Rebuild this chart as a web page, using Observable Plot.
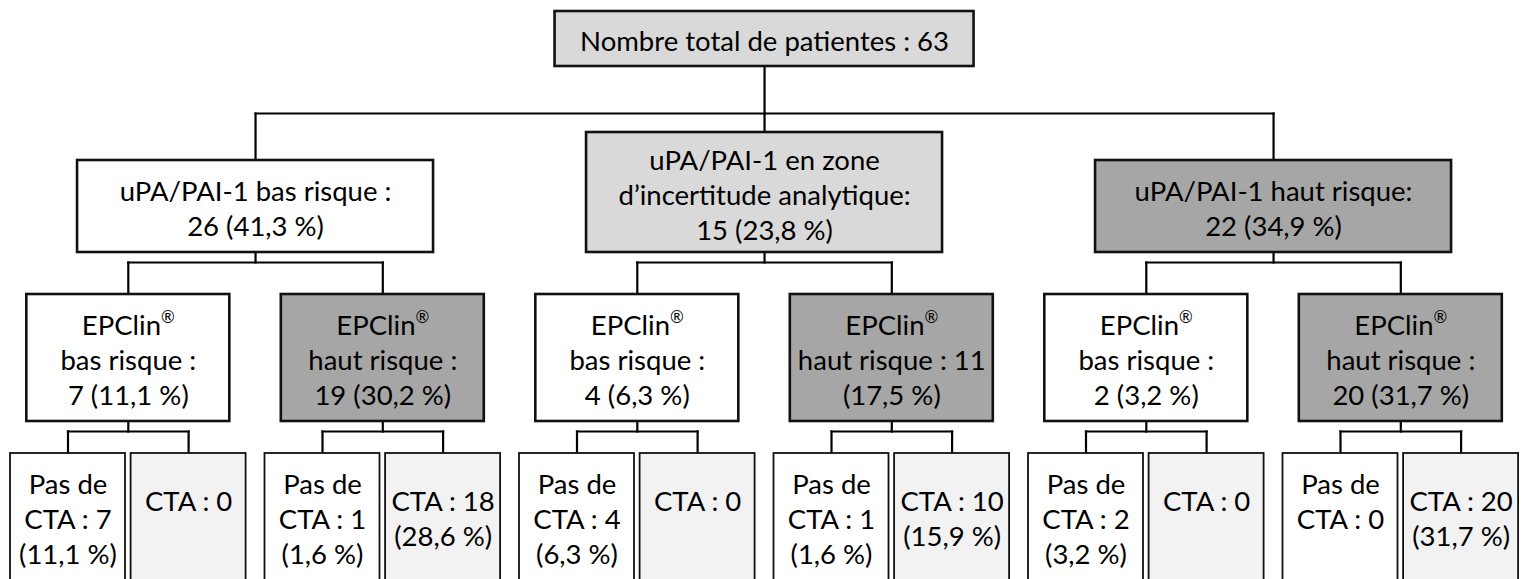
<!DOCTYPE html>
<html>
<head>
<meta charset="utf-8">
<script src="https://cdn.jsdelivr.net/npm/d3@7"></script>
<script src="https://cdn.jsdelivr.net/npm/@observablehq/plot@0.6"></script>
<style>
  html, body { margin: 0; padding: 0; background: #fff; }
  #chart svg { display: block; }
</style>
</head>
<body>
<div id="chart"></div>
<script>
// ---------------- DATA ----------------
const rootLabels = ["Nombre total de patientes : 63"];

const uPALabels = [
  "uPA/PAI-1 bas risque :\n26 (41,3 %)",
  "uPA/PAI-1 en zone\nd’incertitude analytique:\n15 (23,8 %)",
  "uPA/PAI-1 haut risque:\n22 (34,9 %)"
];
const uPAKinds = ["bas", "zone", "haut"];

const epclinLabels = [
  "EPClin®\nbas risque :\n7 (11,1 %)",
  "EPClin®\nhaut risque :\n19 (30,2 %)",
  "EPClin®\nbas risque :\n4 (6,3 %)",
  "EPClin®\nhaut risque : 11\n(17,5 %)",
  "EPClin®\nbas risque :\n2 (3,2 %)",
  "EPClin®\nhaut risque :\n20 (31,7 %)"
];
const epclinKinds = ["bas", "haut", "bas", "haut", "bas", "haut"];

const ctaLabels = [
  "Pas de\nCTA : 7\n(11,1 %)", "CTA : 0\n",
  "Pas de\nCTA : 1\n(1,6 %)", "CTA : 18\n(28,6 %)",
  "Pas de\nCTA : 4\n(6,3 %)", "CTA : 0\n",
  "Pas de\nCTA : 1\n(1,6 %)", "CTA : 10\n(15,9 %)",
  "Pas de\nCTA : 2\n(3,2 %)", "CTA : 0\n",
  "Pas de\nCTA : 0\n", "CTA : 20\n(31,7 %)"
];
const ctaKinds = ["non", "oui", "non", "oui", "non", "oui", "non", "oui", "non", "oui", "non", "oui"];

// ---------------- STYLE / LAYOUT ----------------
const W = 1523, H = 579;
const fills = {
  root: "#d9d9d9",
  bas: "#ffffff", zone: "#d9d9d9", haut: "#a6a6a6",
  non: "#ffffff", oui: "#f2f2f2"
};
const leafX0 = 67.5, leafStep = 120.6, pairGap = 13.3;
const boxW = {root: 419, l1: 356, l2: 203, l3: 115};
const FONT = 27.5, LINE_H = 1.27;

const nLines = s => s.split("\n").length;

const leafX = ctaLabels.map((_, i) => leafX0 + i * leafStep + Math.floor(i / 2) * pairGap);
const epX = epclinLabels.map((_, i) => (leafX[2 * i] + leafX[2 * i + 1]) / 2);
const uX = uPALabels.map((_, i) => (epX[2 * i] + epX[2 * i + 1]) / 2);
const rootX = d3.mean(uX);

const boxes = [];
const rootBox = {label: rootLabels[0], cx: rootX, w: boxW.root, y1: 11, y2: 66, fill: fills.root, lvl: 0};
boxes.push(rootBox);
const l1Boxes = uPALabels.map((label, i) => {
  const y2 = 252, y1 = y2 - (36 + 28 * nLines(label));
  return {label, cx: uX[i], w: boxW.l1, y1, y2, fill: fills[uPAKinds[i]], lvl: 1};
});
const l2Boxes = epclinLabels.map((label, i) => ({label, cx: epX[i], w: boxW.l2, y1: 294, y2: 421, fill: fills[epclinKinds[i]], lvl: 2}));
const l3Boxes = ctaLabels.map((label, i) => ({label, cx: leafX[i], w: boxW.l3, y1: 453, y2: 584, fill: fills[ctaKinds[i]], lvl: 3}));
boxes.push(...l1Boxes, ...l2Boxes, ...l3Boxes);
boxes.forEach(b => { b.x1 = b.cx - b.w / 2; b.x2 = b.cx + b.w / 2; b.ty = l3Boxes.includes(b) ? 517 : (b.y1 + b.y2) / 2 + 1; });

// connectors
const segs = [];
function connect(parent, children, busY) {
  segs.push({x1: parent.cx, y1: parent.y2, x2: parent.cx, y2: busY});
  const xs = children.map(c => c.cx);
  segs.push({x1: d3.min(xs), y1: busY, x2: d3.max(xs), y2: busY});
  children.forEach(c => segs.push({x1: c.cx, y1: busY, x2: c.cx, y2: c.y1}));
}
connect(rootBox, l1Boxes, 113);
l1Boxes.forEach((b, i) => connect(b, l2Boxes.slice(2 * i, 2 * i + 2), 262));
l2Boxes.forEach((b, i) => connect(b, l3Boxes.slice(2 * i, 2 * i + 2), 431));

const upper = boxes.filter(b => b.lvl < 3);
const lower = boxes.filter(b => b.lvl === 3);

const chart = Plot.plot({
  width: W,
  height: H,
  margin: 0,
  x: {domain: [0, W], range: [0, W], axis: null},
  y: {domain: [0, H], range: [0, H], axis: null},
  style: {fontFamily: "Lato, 'Open Sans', sans-serif", background: "#fff"},
  marks: [
    Plot.link(segs, {x1: "x1", y1: "y1", x2: "x2", y2: "y2", stroke: "#000", strokeWidth: 2.2, strokeLinecap: "square"}),
    Plot.rect(upper, {x1: "x1", x2: "x2", y1: "y1", y2: "y2", fill: "fill", stroke: "#111", strokeWidth: 2.6}),
    Plot.rect(lower, {x1: "x1", x2: "x2", y1: "y1", y2: "y2", fill: "fill", stroke: "#111", strokeWidth: 1.8}),
    Plot.text(boxes, {x: "cx", y: "ty", text: "label", fill: "#000", fontSize: FONT, lineHeight: LINE_H, lineAnchor: "middle"})
  ]
});

// render the registered mark as superscript
const svgNS = "http://www.w3.org/2000/svg";
const walker = document.createTreeWalker(chart, NodeFilter.SHOW_TEXT);
const regNodes = [];
while (walker.nextNode()) if (walker.currentNode.nodeValue.includes("®")) regNodes.push(walker.currentNode);
regNodes.forEach(n => {
  const parts = n.nodeValue.split("®");
  const frag = document.createDocumentFragment();
  parts.forEach((p, i) => {
    if (i) {
      const t = document.createElementNS(svgNS, "tspan");
      t.setAttribute("font-size", "0.6em");
      t.setAttribute("baseline-shift", "70%");
      t.textContent = "®";
      frag.appendChild(t);
    }
    if (p) frag.appendChild(document.createTextNode(p));
  });
  n.parentNode.replaceChild(frag, n);
});

document.getElementById("chart").appendChild(chart);
</script>
</body>
</html>
